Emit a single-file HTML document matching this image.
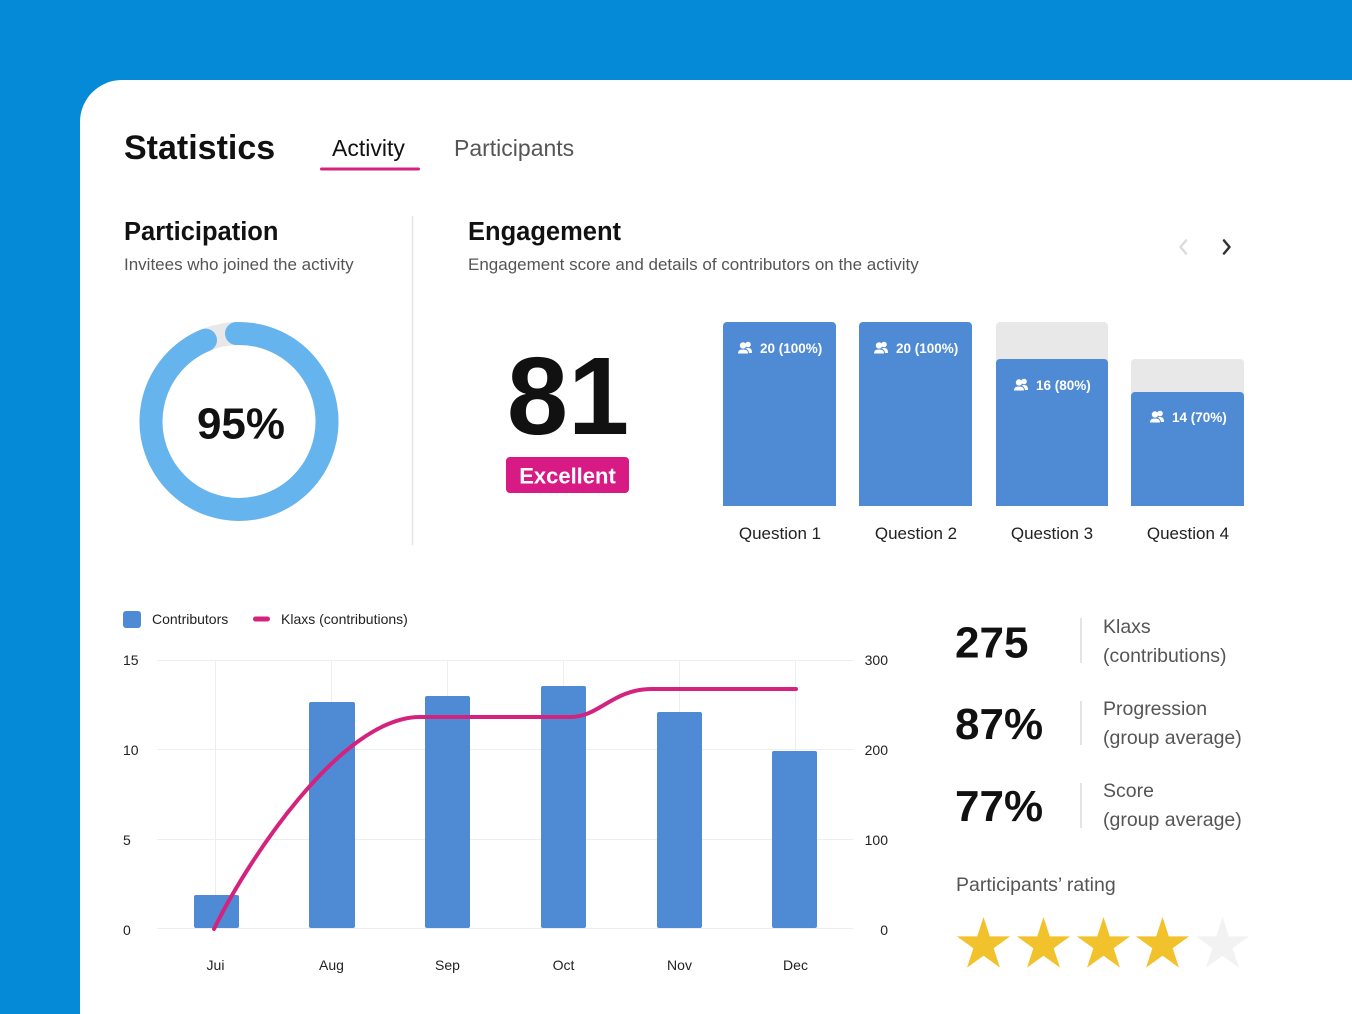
<!DOCTYPE html>
<html><head><meta charset="utf-8"><style>
html,body{margin:0;padding:0;width:1352px;height:1014px;overflow:hidden;background:#048ad6;}
svg{display:block;font-family:"Liberation Sans",Arial,sans-serif;}
</style></head><body>
<svg width="1352" height="1014" viewBox="0 0 1352 1014" xmlns="http://www.w3.org/2000/svg">
<defs>
<path id="star" d="M0,-28 L6.29,-8.65 L26.63,-8.65 L10.16,3.3 L16.46,22.65 L0,10.7 L-16.46,22.65 L-10.16,3.3 L-26.63,-8.65 L-6.29,-8.65 Z"/>
<g id="ppl" fill="#fff">
<circle cx="10" cy="-3.5" r="2.8"/>
<path d="M6.5,5 C6.5,1 8,0 10,0 C12.5,0 14,1 14,5 Z"/>
<circle cx="5" cy="-2.5" r="3.2"/>
<path d="M-0.5,6 C-0.5,2 1.5,1 5,1 C8.5,1 10.5,2 10.5,6 Z" stroke="#4f8ad5" stroke-width="1"/>
</g>
</defs>
<rect width="1352" height="1014" fill="#048ad6"/>
<path d="M80,1014 L80,122 A42,42 0 0 1 122,80 L1352,80 L1352,1014 Z" fill="#fff"/>

<!-- header -->
<text x="124" y="159" font-size="34" font-weight="bold" fill="#111">Statistics</text>
<text x="332" y="156" font-size="23" fill="#111">Activity</text>
<rect x="320" y="167.5" width="100" height="3" rx="1.5" fill="#d3237f"/>
<text x="454" y="156" font-size="23" fill="#555">Participants</text>

<!-- participation -->
<text x="124" y="240" font-size="25.5" font-weight="bold" fill="#111">Participation</text>
<text x="124" y="270" font-size="17" fill="#555">Invitees who joined the activity</text>
<line x1="412.5" y1="216" x2="412.5" y2="545" stroke="#e6e6e6" stroke-width="1.5"/>
<circle cx="239" cy="421.5" r="88" fill="none" stroke="#e8e8e8" stroke-width="23"/>
<path d="M236.5,333.5 A88,88 0 1 1 205.5,340.1" fill="none" stroke="#66b4ee" stroke-width="23" stroke-linecap="round"/>
<text x="241" y="438.5" font-size="44" font-weight="bold" fill="#111" text-anchor="middle">95%</text>

<!-- engagement -->
<text x="468" y="240" font-size="25.5" font-weight="bold" fill="#111">Engagement</text>
<text x="468" y="270" font-size="17" fill="#555">Engagement score and details of contributors on the activity</text>
<polyline points="1186,240.5 1180.5,247 1186,253.5" fill="none" stroke="#dcdcdc" stroke-width="2.5" stroke-linecap="round" stroke-linejoin="round"/>
<polyline points="1224,240.5 1229.5,247 1224,253.5" fill="none" stroke="#333" stroke-width="2.5" stroke-linecap="round" stroke-linejoin="round"/>

<text x="568" y="434" font-size="110" font-weight="bold" fill="#111" text-anchor="middle">81</text>
<rect x="506" y="457" width="123" height="36" rx="4" fill="#d81b84"/>
<text x="567.5" y="483.5" font-size="22" font-weight="bold" fill="#fff" text-anchor="middle">Excellent</text>

<!-- question bars -->
<rect x="723" y="322" width="113" height="184" rx="4" fill="#4f8ad5"/>
<rect x="723" y="500" width="113" height="6" fill="#4f8ad5"/>
<rect x="859" y="322" width="113" height="184" rx="4" fill="#4f8ad5"/>
<rect x="859" y="500" width="113" height="6" fill="#4f8ad5"/>
<rect x="996" y="322" width="112" height="184" rx="4" fill="#e8e8e8"/>
<rect x="996" y="359" width="112" height="147" rx="4" fill="#4f8ad5"/>
<rect x="996" y="500" width="112" height="6" fill="#4f8ad5"/>
<rect x="1131" y="359" width="113" height="147" rx="4" fill="#e8e8e8"/>
<rect x="1131" y="392" width="113" height="114" rx="4" fill="#4f8ad5"/>
<rect x="1131" y="500" width="113" height="6" fill="#4f8ad5"/>

<use href="#ppl" x="738" y="348"/>
<text x="760" y="353" font-size="13.5" font-weight="bold" fill="#fff">20 (100%)</text>
<use href="#ppl" x="874" y="348"/>
<text x="896" y="353" font-size="13.5" font-weight="bold" fill="#fff">20 (100%)</text>
<use href="#ppl" x="1014" y="385"/>
<text x="1036" y="390" font-size="13.5" font-weight="bold" fill="#fff">16 (80%)</text>
<use href="#ppl" x="1150" y="417"/>
<text x="1172" y="422" font-size="13.5" font-weight="bold" fill="#fff">14 (70%)</text>

<g font-size="17" fill="#222" text-anchor="middle">
<text x="780" y="539">Question 1</text>
<text x="916" y="539">Question 2</text>
<text x="1052" y="539">Question 3</text>
<text x="1188" y="539">Question 4</text>
</g>

<!-- chart legend -->
<rect x="123" y="611" width="18" height="17" rx="3" fill="#4f8ad5"/>
<text x="152" y="624" font-size="14" fill="#222">Contributors</text>
<line x1="255.5" y1="619" x2="267.5" y2="619" stroke="#d3237f" stroke-width="5" stroke-linecap="round"/>
<text x="281" y="624" font-size="14" fill="#222">Klaxs (contributions)</text>

<!-- grid -->
<g stroke="#eeeeee" stroke-width="1">
<line x1="157" y1="660.5" x2="853" y2="660.5"/>
<line x1="157" y1="749.5" x2="853" y2="749.5"/>
<line x1="157" y1="839.5" x2="853" y2="839.5"/>
<line x1="157" y1="928.5" x2="853" y2="928.5"/>
<line x1="215.5" y1="660" x2="215.5" y2="928"/>
<line x1="331.5" y1="660" x2="331.5" y2="928"/>
<line x1="447.5" y1="660" x2="447.5" y2="928"/>
<line x1="563.5" y1="660" x2="563.5" y2="928"/>
<line x1="679.5" y1="660" x2="679.5" y2="928"/>
<line x1="795.5" y1="660" x2="795.5" y2="928"/>
</g>
<g font-size="14" fill="#222">
<text x="123" y="665">15</text>
<text x="123" y="755">10</text>
<text x="123" y="845">5</text>
<text x="123" y="935">0</text>
</g>
<g font-size="14" fill="#222" text-anchor="end">
<text x="888" y="665">300</text>
<text x="888" y="755">200</text>
<text x="888" y="845">100</text>
<text x="888" y="935">0</text>
</g>

<!-- chart bars -->
<g fill="#4f8ad5">
<rect x="194" y="895" width="45" height="33" rx="2"/>
<rect x="309" y="702" width="46" height="226" rx="2"/>
<rect x="425" y="696" width="45" height="232" rx="2"/>
<rect x="541" y="686" width="45" height="242" rx="2"/>
<rect x="657" y="712" width="45" height="216" rx="2"/>
<rect x="772" y="751" width="45" height="177" rx="2"/>
</g>
<path d="M214,929 C245,865 340,717 420,717 L570,717 C600,717 612,689 652,689 L796,689" fill="none" stroke="#d3237f" stroke-width="4" stroke-linecap="round"/>

<g font-size="14" fill="#222" text-anchor="middle">
<text x="215.5" y="970">Jui</text>
<text x="331.5" y="970">Aug</text>
<text x="447.5" y="970">Sep</text>
<text x="563.5" y="970">Oct</text>
<text x="679.5" y="970">Nov</text>
<text x="795.5" y="970">Dec</text>
</g>

<!-- stats -->
<g font-size="44" font-weight="bold" fill="#111">
<text x="955" y="657.5">275</text>
<text x="955" y="739">87%</text>
<text x="955" y="821">77%</text>
</g>
<g stroke="#e4e4e4" stroke-width="2">
<line x1="1081" y1="618" x2="1081" y2="663"/>
<line x1="1081" y1="701" x2="1081" y2="745"/>
<line x1="1081" y1="783" x2="1081" y2="828"/>
</g>
<g font-size="19.5" fill="#555">
<text x="1103" y="633">Klaxs</text>
<text x="1103" y="662">(contributions)</text>
<text x="1103" y="715">Progression</text>
<text x="1103" y="744">(group average)</text>
<text x="1103" y="797">Score</text>
<text x="1103" y="826">(group average)</text>
<text x="956" y="891">Participants’ rating</text>
</g>
<use href="#star" x="983.5" y="945" fill="#f2c22d"/>
<use href="#star" x="1043.5" y="945" fill="#f2c22d"/>
<use href="#star" x="1103.5" y="945" fill="#f2c22d"/>
<use href="#star" x="1162.5" y="945" fill="#f2c22d"/>
<use href="#star" x="1222.5" y="945" fill="#f2f2f2"/>
</svg>
</body></html>
